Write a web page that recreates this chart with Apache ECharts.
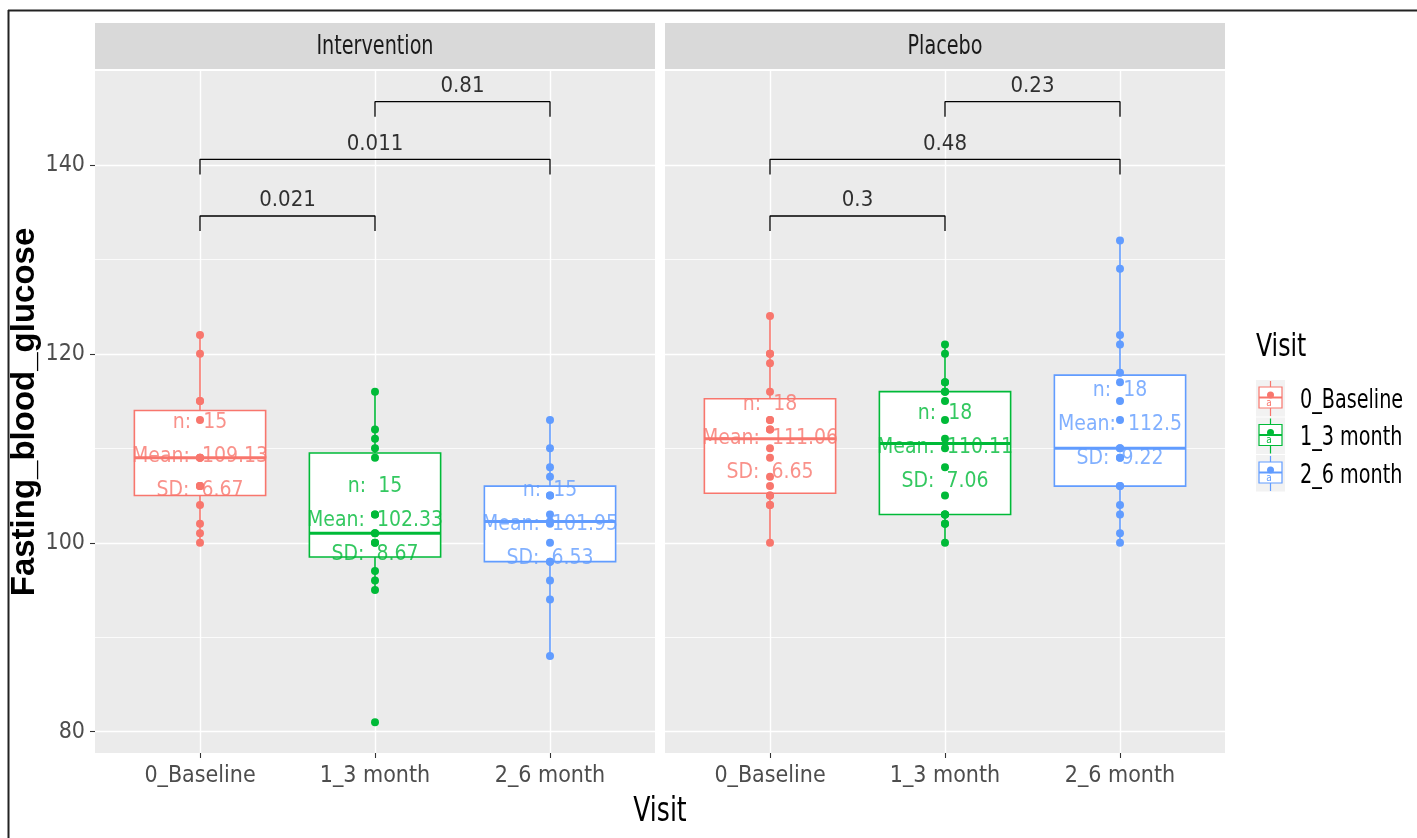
<!DOCTYPE html>
<html>
<head>
<meta charset="utf-8">
<script src="https://cdn.jsdelivr.net/npm/echarts@6/dist/echarts.min.js"></script>
<style>html,body{margin:0;padding:0;background:#fff}#c{width:1417px;height:838px}</style>
</head>
<body>
<div id="c"></div>
<script>
// ---------- data ----------
const categories = ['0_Baseline', '1_3 month', '2_6 month'];
const panels = ['Intervention', 'Placebo'];
const groupColors = ['#F8766D', '#00BA38', '#619CFF'];
const yTicks = [80, 100, 120, 140];

const intBaseline = [100, 101, 102, 104, 106, 106, 106, 109, 109, 109, 113, 115, 115, 120, 122];
const int3month   = [81, 95, 96, 97, 100, 100, 101, 101, 103, 103, 109, 110, 111, 112, 116];
const int6month   = [88, 94, 96, 98, 98, 100, 102, 102.25, 103, 105, 105, 107, 108, 110, 113];
const plaBaseline = [100, 104, 104, 105, 105, 106, 107, 109, 110, 112, 112, 113, 113, 116, 119, 120, 120, 124];
const pla3month   = [100, 102, 102, 103, 103, 103, 105, 108, 110, 111, 113, 115, 116, 116, 117, 117, 120, 121];
const pla6month   = [100, 101, 103, 104, 106, 106, 109, 109, 110, 110, 113, 115, 117, 118, 121, 122, 129, 132];

const intN = [15, 15, 15];
const intMean = ['109.13', '102.33', '101.95'];
const intSD = ['6.67', '8.67', '6.53'];
const plaN = [18, 18, 18];
const plaMean = ['111.06', '110.11', '112.5'];
const plaSD = ['6.65', '7.06', '9.22'];

const bracketStart = [0, 0, 1];
const bracketEnd = [1, 2, 2];
const bracketY = [134.6, 140.6, 146.7];
const bracketTip = 1.6;
const intP = ['0.021', '0.011', '0.81'];
const plaP = ['0.3', '0.48', '0.23'];

const yMin = 77.74, yMax = 149.95;

// ---------- helpers ----------
const NARROW = "'Liberation Sans Narrow','Arial Narrow','DejaVu Sans Condensed',sans-serif";
const SX = 0.82; // horizontal squeeze of the reference text
function boxStats(vals) {
  const s = vals.slice().sort((a, b) => a - b);
  const q = p => { const h = (s.length - 1) * p, lo = Math.floor(h), hi = Math.ceil(h); return s[lo] + (h - lo) * (s[hi] - s[lo]); };
  const q1 = q(0.25), med = q(0.5), q3 = q(0.75), iqr = q3 - q1;
  const lo = Math.min.apply(null, s.filter(v => v >= q1 - 1.5 * iqr));
  const hi = Math.max.apply(null, s.filter(v => v <= q3 + 1.5 * iqr));
  return [lo, q1, med, q3, hi];
}
const panelData = [
  { groups: [intBaseline, int3month, int6month], n: intN, mean: intMean, sd: intSD, p: intP },
  { groups: [plaBaseline, pla3month, pla6month], n: plaN, mean: plaMean, sd: plaSD, p: plaP }
];

const bgLeft = [95, 665], panelW = 560, panelTop = 71, panelH = 682;
const band = panelW / 3.2;

const grid = [], xAxis = [], yAxis = [], series = [];
bgLeft.forEach((l) => {
  grid.push({ left: l, top: panelTop, width: panelW, height: panelH, show: true, backgroundColor: '#EBEBEB', borderWidth: 0 });
});
bgLeft.forEach((l) => {
  grid.push({ left: l + panelW / 2 - 1.5 * band, top: panelTop, width: 3 * band, height: panelH });
});
xAxis.push({ gridIndex: 0, type: 'value', min: 0, max: 1, show: false });
xAxis.push({ gridIndex: 1, type: 'value', min: 0, max: 1, show: false });
[2, 3].forEach(g => xAxis.push({
  gridIndex: g, type: 'category', data: categories, boundaryGap: true, position: 'bottom',
  axisLine: { show: false },
  axisTick: { show: true, alignWithLabel: true, length: 5, lineStyle: { color: '#333333', width: 1.1 } },
  axisLabel: { color: '#4D4D4D', fontSize: 23, fontFamily: NARROW, margin: 12 },
  splitLine: { show: false }
}));
[2, 3].forEach(g => xAxis.push({ gridIndex: g, type: 'value', min: -0.5, max: 2.5, show: false }));
[0, 1].forEach(g => yAxis.push({
  gridIndex: g, type: 'value', min: yMin, max: yMax, splitNumber: 7, position: 'left',
  axisLine: { show: false }, axisTick: { show: false }, axisLabel: { show: false },
  splitLine: { show: true, showMinLine: false, showMaxLine: false, lineStyle: { color: '#FFFFFF', width: 0.8 } }
}));
[2, 3].forEach(g => yAxis.push({ gridIndex: g, type: 'value', min: yMin, max: yMax, show: false, position: 'left', splitLine: { show: false } }));
yAxis.push({
  gridIndex: 0, type: 'value', min: yMin, max: yMax, position: 'left', offset: 0,
  axisLine: { show: false },
  axisTick: { show: true, customValues: yTicks, length: 5, lineStyle: { color: '#333333', width: 1.1 } },
  axisLabel: { show: true, customValues: yTicks, color: '#4D4D4D', fontSize: 23, fontFamily: NARROW, margin: 10 },
  splitLine: { show: false },
  name: 'Fasting_blood_glucose', nameLocation: 'middle', nameRotate: 90, nameGap: 46,
  nameTextStyle: { fontSize: 33, fontWeight: 'bold', color: '#000000', fontFamily: "'Liberation Sans',Arial,sans-serif" }
});

panelData.forEach((pd, k) => {
  const cx = 2 + k, vx = 4 + k, yi = 2 + k;
  // major horizontal grid lines across the full panel
  series.push({
    type: 'line', xAxisIndex: k, yAxisIndex: k, data: [], z: 1, silent: true,
    markLine: { z: 1, silent: true, symbol: ['none', 'none'], label: { show: false },
      lineStyle: { color: '#FFFFFF', width: 1.4, type: 'solid' },
      data: yTicks.map(v => ({ yAxis: v })) }
  });
  // vertical grid lines at categories
  series.push({
    type: 'line', xAxisIndex: cx, yAxisIndex: yi, data: [], z: 1, silent: true,
    markLine: { z: 1, silent: true, symbol: ['none', 'none'], label: { show: false },
      lineStyle: { color: '#FFFFFF', width: 1.4, type: 'solid' },
      data: categories.map(c => ({ xAxis: c })) }
  });
  const boxData = pd.groups.map((g, i) => [i].concat(boxStats(g)));
  series.push({
    type: 'custom', xAxisIndex: cx, yAxisIndex: yi, z: 2, data: boxData,
    encode: { x: 0, y: [1, 2, 3, 4, 5] },
    renderItem: function (params, api) {
      const i = api.value(0);
      const x = api.coord([i, api.value(2)])[0];
      const half = api.size([1, 0])[0] * 0.375;
      const yLo = api.coord([i, api.value(1)])[1];
      const yQ1 = api.coord([i, api.value(2)])[1];
      const yMed = api.coord([i, api.value(3)])[1];
      const yQ3 = api.coord([i, api.value(4)])[1];
      const yHi = api.coord([i, api.value(5)])[1];
      const c = groupColors[i];
      return { type: 'group', children: [
        { type: 'line', shape: { x1: x, y1: yHi, x2: x, y2: yQ3 }, style: { stroke: c, lineWidth: 1.6 } },
        { type: 'line', shape: { x1: x, y1: yQ1, x2: x, y2: yLo }, style: { stroke: c, lineWidth: 1.6 } },
        { type: 'rect', shape: { x: x - half, y: yQ3, width: 2 * half, height: yQ1 - yQ3 }, style: { fill: '#FFFFFF', stroke: c, lineWidth: 1.6 } },
        { type: 'line', shape: { x1: x - half, y1: yMed, x2: x + half, y2: yMed }, style: { stroke: c, lineWidth: 3 } }
      ] };
    }
  });
  const pts = [];
  pd.groups.forEach((g, i) => g.forEach(v => pts.push({ value: [i, v], itemStyle: { color: groupColors[i] } })));
  series.push({ type: 'scatter', xAxisIndex: cx, yAxisIndex: yi, z: 3, symbolSize: 8, data: pts, silent: true,
    itemStyle: { opacity: 1, borderWidth: 0 } });
  series.push({
    type: 'scatter', xAxisIndex: cx, yAxisIndex: yi, z: 4, symbolSize: 1, silent: true,
    itemStyle: { color: 'rgba(0,0,0,0)' },
    data: pd.mean.map((m, i) => ({ value: [i, parseFloat(m)], label: { color: groupColors[i] } })),
    label: { show: true, position: 'inside', fontSize: 21, lineHeight: 34, fontFamily: NARROW, align: 'center', verticalAlign: 'middle',
      formatter: p => 'n:  ' + pd.n[p.dataIndex] + '\nMean:  ' + pd.mean[p.dataIndex] + '\nSD:  ' + pd.sd[p.dataIndex] }
  });
  bracketY.forEach((y, b) => {
    const s = bracketStart[b], e = bracketEnd[b];
    series.push({
      type: 'line', xAxisIndex: vx, yAxisIndex: yi, z: 5, symbol: 'none', silent: true,
      lineStyle: { color: '#000000', width: 1.3 },
      data: [[s, y - bracketTip], [s, y], [e, y], [e, y - bracketTip]]
    });
  });
  series.push({
    type: 'scatter', xAxisIndex: vx, yAxisIndex: yi, z: 5, symbolSize: 1, silent: true,
    itemStyle: { color: 'rgba(0,0,0,0)' },
    data: bracketY.map((y, b) => [(bracketStart[b] + bracketEnd[b]) / 2, y]),
    label: { show: true, position: 'top', distance: 4, color: '#000000', fontSize: 22, fontFamily: NARROW,
      formatter: p => pd.p[p.dataIndex] }
  });
});

const graphic = [
  { type: 'line', shape: { x1: 8.5, y1: 10, x2: 8.5, y2: 838 }, style: { stroke: '#222222', lineWidth: 2 } },
  { type: 'line', shape: { x1: 8, y1: 10.5, x2: 1417, y2: 10.5 }, style: { stroke: '#222222', lineWidth: 2 } }
];
function txt(x, y, s, size, color, align) {
  return { type: 'text', x: x, y: y, scaleX: SX, scaleY: 1,
    style: { text: s, fill: color, font: size + 'px ' + NARROW, textAlign: align, textVerticalAlign: 'middle' } };
}
panels.forEach((name, k) => {
  graphic.push({ type: 'rect', shape: { x: bgLeft[k], y: 23, width: panelW, height: 46 }, style: { fill: '#D9D9D9' } });
  graphic.push(txt(bgLeft[k] + panelW / 2, 47, name, 26, '#1A1A1A', 'center'));
});
graphic.push(txt(660, 812, 'Visit', 34, '#000000', 'center'));
graphic.push(txt(1256, 348, 'Visit', 32, '#000000', 'left'));
categories.forEach((c, i) => {
  const ky = 380 + i * 37.5, kx = 1256, col = groupColors[i];
  graphic.push({ type: 'rect', shape: { x: kx, y: ky, width: 29, height: 36.5 }, style: { fill: '#F2F2F2' } });
  graphic.push({ type: 'line', shape: { x1: kx + 14.5, y1: ky + 1, x2: kx + 14.5, y2: ky + 36 }, style: { stroke: col, lineWidth: 1.2 } });
  graphic.push({ type: 'rect', shape: { x: kx + 3, y: ky + 7, width: 23, height: 21 }, style: { fill: '#FFFFFF', stroke: col, lineWidth: 1.2 } });
  graphic.push({ type: 'line', shape: { x1: kx + 3, y1: ky + 17.5, x2: kx + 26, y2: ky + 17.5 }, style: { stroke: col, lineWidth: 2 } });
  graphic.push({ type: 'circle', shape: { cx: kx + 14.5, cy: ky + 15, r: 3.5 }, style: { fill: col } });
  graphic.push({ type: 'text', x: kx + 13, y: ky + 23, style: { text: 'a', fill: col, font: '10px ' + NARROW, textAlign: 'center', textVerticalAlign: 'middle' } });
  graphic.push(txt(1300, ky + 21, c, 26, '#000000', 'left'));
});

const chart = echarts.init(document.getElementById('c'), null, { renderer: 'canvas' });
chart.setOption({ animation: false, backgroundColor: '#FFFFFF', grid, xAxis, yAxis, series, graphic });
</script>
</body>
</html>
